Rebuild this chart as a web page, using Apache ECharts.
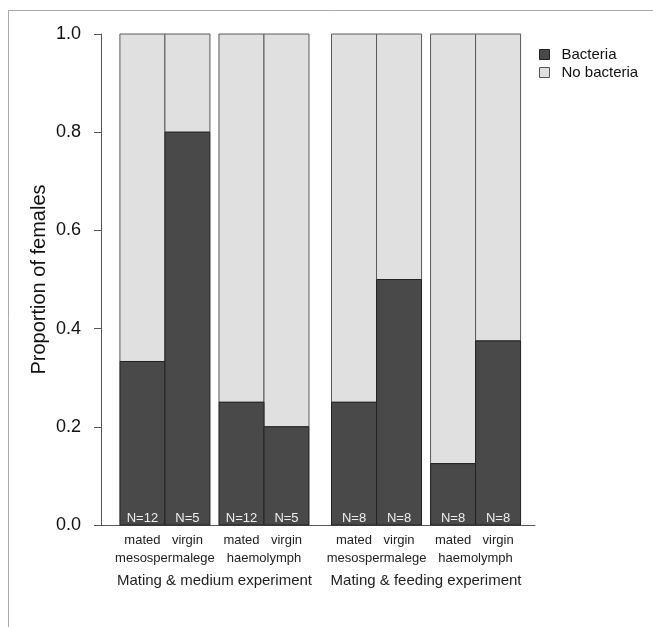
<!DOCTYPE html>
<html lang="en">
<head>
  <meta charset="UTF-8">
  <script src="https://cdn.jsdelivr.net/npm/echarts@6/dist/echarts.min.js"></script>
  <style>
    html, body { margin: 0; padding: 0; background: #fff; }
    #container { width: 653px; height: 627px; }
  </style>
</head>
<body>
  <div id="container"></div>
  <script>
    var groups = ['mated', 'virgin', 'mated', 'virgin', 'mated', 'virgin', 'mated', 'virgin'];
    var tissues = ['mesospermalege', 'haemolymph', 'mesospermalege', 'haemolymph'];
    var experiments = ['Mating & medium experiment', 'Mating & feeding experiment'];
    var bacteria = [0.333, 0.8, 0.25, 0.2, 0.25, 0.5, 0.125, 0.375];
    var sampleN = [12, 5, 12, 5, 8, 8, 8, 8];

    var font = '"Liberation Sans", Arial, Helvetica, sans-serif';
    var darkFill = '#494949', lightFill = '#e0e0e0';

    // left edge of bar i, in bar widths (pairs touch, small gap per tissue, wider per experiment)
    function barStart(i) {
      return 0.42 + i + Math.floor(i / 2) * 0.2 + Math.floor(i / 4) * 0.3;
    }
    var xMax = 9.64;

    var darkData = bacteria.map(function (p, i) { return [barStart(i), p]; });
    var lightData = bacteria.map(function (p, i) { return [barStart(i), p]; });

    // text under the axis: row 0 mated/virgin, row 1 tissue, row 2 experiment
    var labelItems = [];
    groups.forEach(function (g, i) { labelItems.push({ x: barStart(i) + 0.5, row: 0, text: g }); });
    tissues.forEach(function (t, j) { labelItems.push({ x: barStart(2 * j) + 1, row: 1, text: t }); });
    experiments.forEach(function (e, k) {
      labelItems.push({ x: (barStart(4 * k) + barStart(4 * k + 3) + 1) / 2, row: 2, text: e });
    });
    var rowOffset = [15, 33, 56];
    var rowSize = [13, 13, 15];

    function rectBetween(api, x0, y0, y1) {
      var a = api.coord([x0, y0]);
      var b = api.coord([x0 + 1, y1]);
      return { x: a[0], y: b[1], width: b[0] - a[0], height: a[1] - b[1] };
    }

    var myChart = echarts.init(document.getElementById('container'));
    var option = {
      animation: false,
      grid: { left: 101, right: 118, top: 34, bottom: 102 },
      xAxis: {
        type: 'value', min: 0, max: xMax,
        axisLine: { show: true, onZero: false, lineStyle: { color: '#555', width: 1 } },
        axisTick: { show: false }, axisLabel: { show: false }, splitLine: { show: false }
      },
      yAxis: {
        type: 'value', min: 0, max: 1, interval: 0.2,
        name: 'Proportion of females', nameLocation: 'middle', nameGap: 52, nameMoveOverlap: false,
        nameTextStyle: { fontSize: 20, color: '#111', fontFamily: font },
        axisLine: { show: true, lineStyle: { color: '#555', width: 1 } },
        axisTick: { show: true, inside: false, length: 7, lineStyle: { color: '#555' } },
        axisLabel: {
          margin: 20, fontSize: 18, color: '#111', fontFamily: font,
          formatter: function (v) { return v.toFixed(1); }
        },
        splitLine: { show: false }
      },
      legend: {
        orient: 'vertical', left: 534, top: 42, itemWidth: 10, itemHeight: 10, itemGap: 3,
        icon: 'rect',
        textStyle: { fontSize: 15, color: '#111', fontFamily: font, padding: [0, 0, 0, 7] },
        data: [
          { name: 'Bacteria', itemStyle: { color: darkFill, borderColor: '#222', borderWidth: 1 } },
          { name: 'No bacteria', itemStyle: { color: lightFill, borderColor: '#555', borderWidth: 1 } }
        ]
      },
      graphic: [
        { type: 'line', shape: { x1: 8.5, y1: 10, x2: 8.5, y2: 627 }, style: { stroke: '#aaa', lineWidth: 1 } },
        { type: 'line', shape: { x1: 8, y1: 10.5, x2: 653, y2: 10.5 }, style: { stroke: '#aaa', lineWidth: 1 } }
      ],
      series: [
        {
          name: 'No bacteria', type: 'custom', itemStyle: { color: lightFill },
          data: lightData,
          renderItem: function (params, api) {
            return {
              type: 'rect',
              shape: rectBetween(api, api.value(0), api.value(1), 1),
              style: { fill: lightFill, stroke: '#5a5a5a', lineWidth: 1 }
            };
          }
        },
        {
          name: 'Bacteria', type: 'custom', itemStyle: { color: darkFill },
          data: darkData,
          renderItem: function (params, api) {
            var r = rectBetween(api, api.value(0), 0, api.value(1));
            return {
              type: 'group',
              children: [
                { type: 'rect', shape: r, style: { fill: darkFill, stroke: '#222', lineWidth: 1 } },
                {
                  type: 'text', x: r.x + r.width / 2, y: r.y + r.height - 7,
                  style: {
                    text: 'N=' + sampleN[params.dataIndex], fill: '#eee', fontSize: 13,
                    fontFamily: font, align: 'center', verticalAlign: 'middle'
                  }
                }
              ]
            };
          }
        },
        {
          name: 'labels', type: 'custom', silent: true,
          data: labelItems.map(function (d) { return [d.x, d.row]; }),
          renderItem: function (params, api) {
            var d = labelItems[params.dataIndex];
            var p = api.coord([d.x, 0]);
            return {
              type: 'text', x: p[0], y: p[1] + rowOffset[d.row],
              style: {
                text: d.text, fill: '#222', fontSize: rowSize[d.row], fontFamily: font,
                align: 'center', verticalAlign: 'middle'
              }
            };
          }
        }
      ]
    };
    myChart.setOption(option);
  </script>
</body>
</html>
